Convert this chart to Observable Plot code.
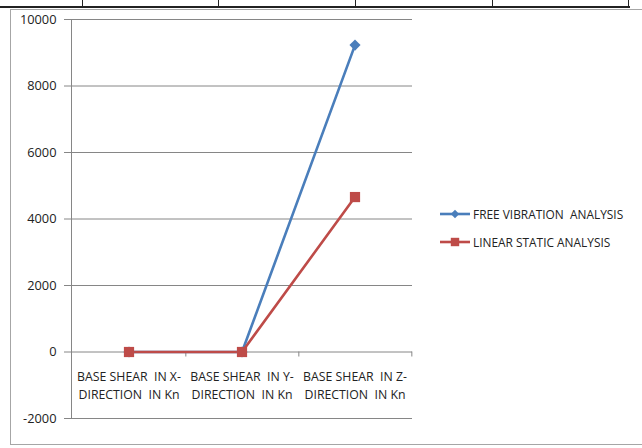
<!DOCTYPE html>
<html>
<head>
<meta charset="utf-8">
<script src="https://cdn.jsdelivr.net/npm/d3@7"></script>
<script src="https://cdn.jsdelivr.net/npm/@observablehq/plot@0.6"></script>
<style>
  html, body { margin: 0; padding: 0; background: #fff; }
  #wrap { position: relative; width: 642px; height: 448px; overflow: hidden; font-family: "Open Sans", "Noto Sans", sans-serif; }
  #table-top { position: absolute; left: 0; top: 6px; width: 630px; height: 0; border-top: 2px solid #222; }
  .cell-sep { position: absolute; top: 0; width: 0; height: 7px; border-left: 1px solid #222; }
  #frame { position: absolute; left: 10px; top: 9px; width: 640px; height: 436px; border: 1px solid #a6a6a6; box-sizing: border-box; }
  #chart { position: absolute; left: 0; top: 0; }
  #chart svg text { white-space: pre; }
  #legend { position: absolute; left: 440px; top: 200px; font-size: 11.9px; color: #222; }
  .item { display: flex; align-items: center; height: 28px; white-space: pre; }
  .item svg { margin-right: 1px; display: block; }
</style>
</head>
<body>
<div id="wrap">
  <div id="frame"></div>
  <div id="table-top"></div>
  <div id="chart"></div>
  <div id="legend"></div>
</div>
<script>
// Categories along the x axis (two-line labels)
const categories = [
  "BASE SHEAR  IN X-\nDIRECTION  IN Kn",
  "BASE SHEAR  IN Y-\nDIRECTION  IN Kn",
  "BASE SHEAR  IN Z-\nDIRECTION  IN Kn"
];
// Base shear values (kN) for each analysis
const freeVibration = [0, 0, 9230];
const linearStatic = [0, 0, 4660];
const seriesNames = ["FREE VIBRATION  ANALYSIS", "LINEAR STATIC ANALYSIS"];
const seriesColors = ["#4a7ebb", "#be4b48"];
const seriesSymbols = ["diamond", "square"];
const yTicks = [-2000, 0, 2000, 4000, 6000, 8000, 10000];

// Table cell separators above the chart
const wrap = document.getElementById("wrap");
[82, 218, 355, 492, 628].forEach(x => {
  const d = document.createElement("div");
  d.className = "cell-sep";
  d.style.left = x + "px";
  wrap.appendChild(d);
});

const rows = [
  ...categories.map((c, i) => ({cat: c, value: freeVibration[i], series: seriesNames[0]})),
  ...categories.map((c, i) => ({cat: c, value: linearStatic[i], series: seriesNames[1]}))
];
const fv = rows.filter(d => d.series === seriesNames[0]);
const ls = rows.filter(d => d.series === seriesNames[1]);

const gridColor = "#868686";
const textColor = "#222";

const chart = Plot.plot({
  width: 642,
  height: 448,
  marginLeft: 71,
  marginRight: 230,
  marginTop: 19,
  marginBottom: 30,
  style: {fontFamily: "'Open Sans', 'Noto Sans', sans-serif", color: textColor, background: "transparent"},
  x: {type: "band", domain: categories, padding: 0, axis: null},
  y: {domain: [-2000, 10000], axis: null},
  marks: [
    // horizontal gridlines
    Plot.ruleY(yTicks, {stroke: gridColor, strokeWidth: 1}),
    // vertical value axis line
    Plot.frame({anchor: "left", stroke: gridColor}),
    // value ticks and labels
    Plot.axisY({ticks: yTicks, label: null, tickSize: 7, tickPadding: 8, stroke: gridColor, tickFormat: d => String(d), fontSize: 12.8, fill: textColor}),
    // category boundary ticks hanging below the zero line
    Plot.ruleX(categories, {x: d => d, y1: 0, y2: 0, dx: 341 / 6, insetBottom: -5, stroke: gridColor}),
    // category labels
    Plot.text(categories, {x: d => d, y: 0, text: d => d, dy: 32, lineHeight: 1.45, fill: textColor, fontSize: 12.3}),
    // series lines and markers
    Plot.line(fv, {x: "cat", y: "value", stroke: seriesColors[0], strokeWidth: 2.6}),
    Plot.line(ls, {x: "cat", y: "value", stroke: seriesColors[1], strokeWidth: 2.6}),
    Plot.dot(fv, {x: "cat", y: "value", symbol: "diamond2", r: 5, fill: seriesColors[0], stroke: "none"}),
    Plot.dot(ls, {x: "cat", y: "value", symbol: "square2", r: 6.5, fill: seriesColors[1], stroke: "none"})
  ]
});
document.getElementById("chart").appendChild(chart);

// Legend on the right: line sample with marker, then series name
const legend = d3.select("#legend");
seriesNames.forEach((name, i) => {
  const item = legend.append("div").attr("class", "item");
  const svg = item.append("svg").attr("width", 32).attr("height", 14);
  svg.append("line").attr("x1", 0).attr("x2", 30).attr("y1", 7).attr("y2", 7)
    .attr("stroke", seriesColors[i]).attr("stroke-width", 2.6);
  const sym = seriesSymbols[i] === "diamond" ? d3.symbolDiamond2 : d3.symbolSquare2;
  const size = seriesSymbols[i] === "diamond" ? 45 : 90;
  svg.append("path").attr("transform", "translate(15,7)")
    .attr("d", d3.symbol(sym, size)()).attr("fill", seriesColors[i]);
  item.append("span").text(name);
});
</script>
</body>
</html>
